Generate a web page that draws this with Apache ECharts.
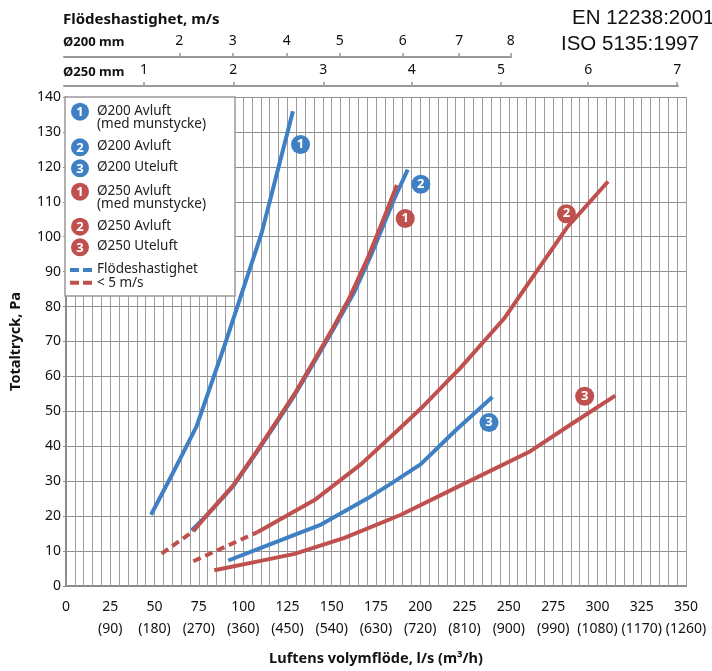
<!DOCTYPE html>
<html><head><meta charset="utf-8">
<script src="https://cdn.jsdelivr.net/npm/echarts@6/dist/echarts.min.js"></script>
<style>html,body{margin:0;padding:0;background:#fff}#c{width:712px;height:671px}</style>
</head><body><div id="c"></div>
<script>
const BLUE = '#3f7fc4', RED = '#c0504d';
const FONT = "'Noto Sans', sans-serif";

// bottom axis (l/s) and secondary labels (m3/h)
const flowTicks = [0,25,50,75,100,125,150,175,200,225,250,275,300,325,350];
const m3hLabels = ['','(90)','(180)','(270)','(360)','(450)','(540)','(630)','(720)','(810)','(900)','(990)','(1080)','(1170)','(1260)'];
// velocity scales (positions in l/s) and their labels
const v200Ticks = [64.9,94.9,125.3,155.2,190.6,222.4,251.4];
const v200Labels = ['2','3','4','5','6','7','8'];
const v250Ticks = [45.0,95.3,145.9,195.7,245.9,295.0,345.1];
const v250Labels = ['1','2','3','4','5','6','7'];

// curves [l/s, Pa]
const blue1 = [[48,20.4],[60.5,32.5],[73.7,45.7],[89.6,69],[100,85],[110.3,100.8],[128.1,135.9]];
const blue2 = [[70.9,15.9],[80,20.5],[94.4,28.6],[108.4,38.8],[120,47.6],[129,54.6],[140,64],[151.5,74],[162.6,84],[172,94.5],[185.3,110.8],[192.9,119.2]];
const blue3 = [[91.6,7.3],[110.4,11],[130.4,14.9],[144,17.6],[170.3,25.1],[185,29.8],[200.3,34.9],[220,44.6],[240.7,54.1]];
const red1Dash = [[54,9.3],[71.9,15.7]];
const red1 = [[71.9,15.7],[80,20.6],[94.4,28.8],[108.4,39.1],[120,48],[129,55],[140,64.5],[151.5,74.6],[160,82.5],[170,93.5],[180,106],[186.8,114.8]];
const red2Dash = [[71.9,7.1],[108,15.4]];
const red2 = [[108,15.4],[140.3,24.6],[166.6,34.9],[185,43.5],[200.3,50.8],[222.8,62.5],[247.2,76.5],[265,89.6],[282.9,102.7],[306,115.8]];
const red3 = [[83.7,4.5],[105,6.7],[129,9.2],[157.2,13.8],[189.1,20.4],[222.8,28.8],[262.2,38.6],[286,46.6],[310.1,54.5]];
// numbered markers [l/s, Pa, number]
const blueMarks = [[132.4,126.4,1],[200.3,115,2],[238.8,46.8,3]];
const redMarks = [[191.5,105.2,1],[282.5,106.6,2],[292.8,54.3,3]];

const GRID_C = '#9c9c9c', AX_C = '#8c8c8c';

function lineSeries(data, color, dashed) {
  return {type:'line', data, showSymbol:false, symbol:'none', smooth:false, z:3,
    lineStyle:{color, width:4, type: dashed ? [8,5] : 'solid', cap:'butt', join:'round'}};
}
function markSeries(data, color) {
  return {type:'scatter', data, symbol:'circle', symbolSize:19, z:5,
    itemStyle:{color, opacity:1},
    label:{show:true, position:'inside', formatter:p => String(p.value[2]),
      color:'#fff', fontFamily:FONT, fontWeight:'bold', fontSize:13}};
}

const legendRows = [
  {color:BLUE, num:'1', y:111.7, lines:['Ø200 Avluft','(med munstycke)']},
  {color:BLUE, num:'2', y:147.3, lines:['Ø200 Avluft']},
  {color:BLUE, num:'3', y:168.3, lines:['Ø200 Uteluft']},
  {color:RED, num:'1', y:191.7, lines:['Ø250 Avluft','(med munstycke)']},
  {color:RED, num:'2', y:226.7, lines:['Ø250 Avluft']},
  {color:RED, num:'3', y:247.3, lines:['Ø250 Uteluft']}
];
const graphics = [
  {type:'rect', z:100, shape:{x:65,y:97,width:170,height:199}, style:{fill:'#fff', stroke:'#999', lineWidth:1.5}}
];
legendRows.forEach(r => {
  graphics.push({type:'circle', z:101, shape:{cx:80, cy:r.y, r:9}, style:{fill:r.color}});
  graphics.push({type:'text', z:102, x:80, y:r.y+0.5, style:{text:r.num, fill:'#fff', font:'bold 13px '+FONT, align:'center', verticalAlign:'middle'}});
  r.lines.forEach((t,i) => graphics.push({type:'text', z:102, x:97, y:r.y - 1 + i*13.5,
    style:{text:t, fill:'#222', font:'13.5px '+FONT, align:'left', verticalAlign:'middle'}}));
});
graphics.push({type:'line', z:101, shape:{x1:70,y1:270,x2:92,y2:270}, style:{stroke:BLUE, lineWidth:4, lineDash:[9,4]}});
graphics.push({type:'line', z:101, shape:{x1:70,y1:282.7,x2:92,y2:282.7}, style:{stroke:RED, lineWidth:4, lineDash:[9,4]}});
graphics.push({type:'text', z:102, x:97, y:269, style:{text:'Flödeshastighet', fill:'#222', font:'13.5px '+FONT, verticalAlign:'middle'}});
graphics.push({type:'text', z:102, x:97, y:283, style:{text:'< 5 m/s', fill:'#222', font:'13.5px '+FONT, verticalAlign:'middle'}});
// headings
graphics.push({type:'text', x:63, y:20, style:{text:'Flödeshastighet, m/s', fill:'#111', font:'bold 15px '+FONT, verticalAlign:'middle'}});
graphics.push({type:'text', x:63, y:42, style:{text:'Ø200 mm', fill:'#111', font:'bold 13px '+FONT, verticalAlign:'middle'}});
graphics.push({type:'text', x:63, y:72, style:{text:'Ø250 mm', fill:'#111', font:'bold 13px '+FONT, verticalAlign:'middle'}});
graphics.push({type:'text', x:572, y:18, style:{text:'EN 12238:2001', fill:'#111', font:"20.5px 'Liberation Sans', Arial, sans-serif", verticalAlign:'middle'}});
graphics.push({type:'text', x:561, y:44, style:{text:'ISO 5135:1997', fill:'#111', font:"20.5px 'Liberation Sans', Arial, sans-serif", verticalAlign:'middle'}});

const topAxisCommon = {
  type:'value', position:'top', min:0,
  axisLine:{show:true, lineStyle:{color:'#999', width:2}},
  axisTick:{show:true, length:4, lineStyle:{color:'#999', width:1.5}},
  splitLine:{show:false},
  axisLabel:{show:true, margin:8, color:'#111', fontFamily:FONT, fontSize:14}
};

const option = {
  animation:false,
  backgroundColor:'#fff',
  textStyle:{fontFamily:FONT},
  grid:[
    {left:64, right:26, top:97, bottom:75},
    {left:64, width:447, top:56, height:1},
    {left:64, width:614, top:85, height:1}
  ],
  xAxis:[
    {type:'value', gridIndex:0, position:'bottom', min:0, max:350, interval:25,
     name:'Luftens volymflöde, l/s (m³/h)', nameLocation:'middle', nameGap:65,
     nameTextStyle:{fontFamily:FONT, fontWeight:'bold', fontSize:14.5, color:'#111'},
     axisLine:{show:true, onZero:false, lineStyle:{color:AX_C, width:2}},
     axisTick:{show:false},
     axisLabel:{margin:10, lineHeight:22, color:'#111', fontFamily:FONT, fontSize:14,
       formatter:v => { const i = flowTicks.indexOf(v); return m3hLabels[i] ? v + '\n' + m3hLabels[i] : String(v); }},
     splitLine:{show:true, lineStyle:{color:GRID_C, width:1}},
     minorTick:{show:false, splitNumber:5},
     minorSplitLine:{show:true, lineStyle:{color:GRID_C, width:1}}
    },
    {type:'value', gridIndex:0, position:'top', min:0, max:350, interval:5,
     axisLine:{show:true, lineStyle:{color:AX_C, width:1.5}},
     axisTick:{show:true, length:4, lineStyle:{color:GRID_C, width:1}},
     axisLabel:{show:false}, splitLine:{show:false}},
    Object.assign({}, topAxisCommon, {gridIndex:1, max:447/1.777,
      axisLabel:Object.assign({}, topAxisCommon.axisLabel, {customValues:v200Ticks,
        formatter:v => { const i = v200Ticks.indexOf(v); return i >= 0 ? v200Labels[i] : ''; }}),
      axisTick:Object.assign({}, topAxisCommon.axisTick, {customValues:v200Ticks})}),
    Object.assign({}, topAxisCommon, {gridIndex:2, max:614/1.777,
      axisLabel:Object.assign({}, topAxisCommon.axisLabel, {customValues:v250Ticks,
        formatter:v => { const i = v250Ticks.indexOf(v); return i >= 0 ? v250Labels[i] : ''; }}),
      axisTick:Object.assign({}, topAxisCommon.axisTick, {customValues:v250Ticks})})
  ],
  yAxis:[
    {type:'value', gridIndex:0, min:0, max:140, interval:10,
     name:'Totaltryck, Pa', nameLocation:'middle', nameGap:43, nameRotate:90,
     nameTextStyle:{fontFamily:FONT, fontWeight:'bold', fontSize:14.5, color:'#111'},
     axisLine:{show:true, lineStyle:{color:AX_C, width:2}},
     axisTick:{show:true, length:3, lineStyle:{color:AX_C}},
     axisLabel:{margin:5, color:'#111', fontFamily:FONT, fontSize:14},
     splitLine:{show:true, lineStyle:{color:'#8f8f8f', width:1}}},
    {type:'value', gridIndex:1, show:false},
    {type:'value', gridIndex:2, show:false}
  ],
  graphic: graphics,
  series:[
    lineSeries(blue1, BLUE),
    lineSeries(red1Dash, RED, true),
    lineSeries(blue2, BLUE),
    lineSeries(red1, RED),
    lineSeries(red2Dash, RED, true),
    lineSeries(red2, RED),
    lineSeries(blue3, BLUE),
    lineSeries(red3, RED),
    markSeries(blueMarks, BLUE),
    markSeries(redMarks, RED)
  ]
};
const chart = echarts.init(document.getElementById('c'), null, {renderer:'canvas'});
chart.setOption(option);
</script>
</body></html>
